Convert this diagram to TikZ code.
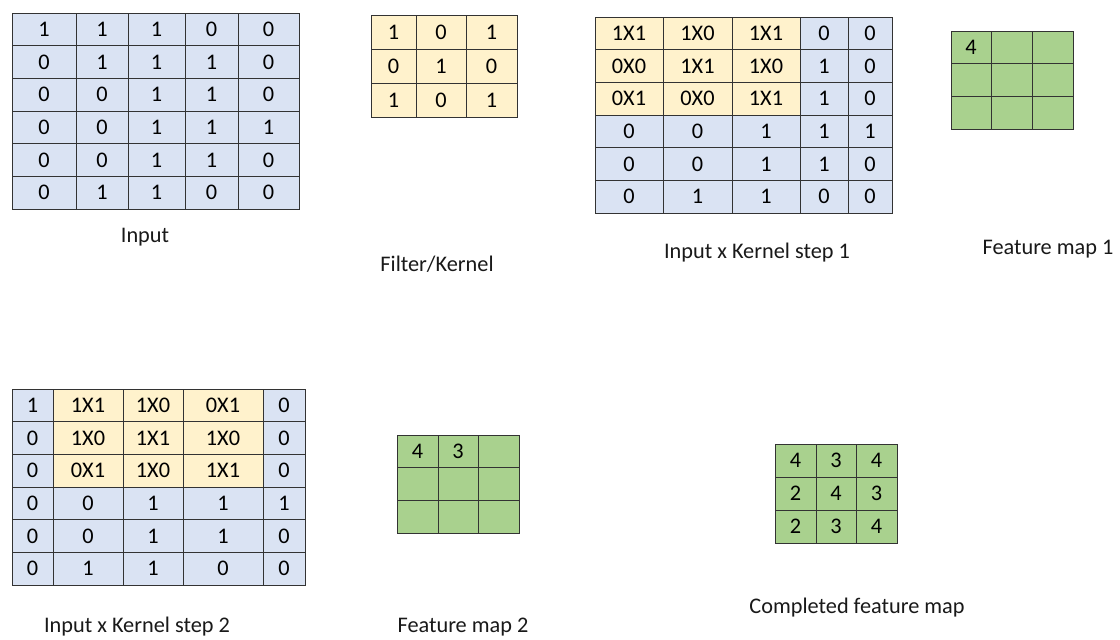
\documentclass[tikz,border=0pt]{standalone}
\usepackage{fontspec}
\setmainfont{Carlito}
\usepackage{tikz}
\usetikzlibrary{positioning}

\definecolor{inblue}{HTML}{DAE3F3}
\definecolor{kyellow}{HTML}{FFF2CC}
\definecolor{fmgreen}{HTML}{A9D18E}

\tikzset{
  cell/.style={draw=black!80, line width=1pt, inner sep=0pt, outer sep=0pt,
    anchor=north west, font=\fontsize{22.3}{26}\selectfont},
  blu/.style={fill=inblue},
  yel/.style={fill=kyellow},
  grn/.style={fill=fmgreen},
  caption/.style={font=\fontsize{22.3}{26}\selectfont, text=black!90}
}

% grid of cells: name, column edges, top, row height, rows of value/fill
\newcommand{\cellgrid}[5]{%
  \foreach \row [count=\ri] in {#5} {
    \foreach \v/\f [count=\ci] in \row {
      \pgfmathsetmacro\xa{{#2}[\ci-1]}
      \pgfmathsetmacro\xb{{#2}[\ci]}
      \pgfmathsetmacro\cellw{\xb-\xa}
      \pgfmathsetmacro\yt{#3+(\ri-1)*#4}
      \node[cell, \f, minimum width=\cellw pt, minimum height=#4 pt]
        (#1-\ri-\ci) at (\xa,\yt) {\v};
    }
  }
}

\begin{document}
\begin{tikzpicture}[x=1pt, y=-1pt]
  \useasboundingbox[fill=white] (0,0) rectangle (1120,640);

  % input
  \cellgrid{in}{12,76,128,185,238,299}{13}{32.67}{
    {1/blu,1/blu,1/blu,0/blu,0/blu},
    {0/blu,1/blu,1/blu,1/blu,0/blu},
    {0/blu,0/blu,1/blu,1/blu,0/blu},
    {0/blu,0/blu,1/blu,1/blu,1/blu},
    {0/blu,0/blu,1/blu,1/blu,0/blu},
    {0/blu,1/blu,1/blu,0/blu,0/blu}}
  \node[caption] (inlabel) at (145,237) {Input};

  % kernel
  \cellgrid{k}{371,416,466,517}{15}{34}{
    {1/yel,0/yel,1/yel},
    {0/yel,1/yel,0/yel},
    {1/yel,0/yel,1/yel}}
  \node[caption] (klabel) at (437,264) {Filter/Kernel};

  % step 1
  \cellgrid{sa}{595,663,732,800,848,892}{17}{32.67}{
    {1X1/yel,1X0/yel,1X1/yel,0/blu,0/blu},
    {0X0/yel,1X1/yel,1X0/yel,1/blu,0/blu},
    {0X1/yel,0X0/yel,1X1/yel,1/blu,0/blu},
    {0/blu,0/blu,1/blu,1/blu,1/blu},
    {0/blu,0/blu,1/blu,1/blu,0/blu},
    {0/blu,1/blu,1/blu,0/blu,0/blu}}
  \node[caption] (salabel) at (757,253) {Input x Kernel step 1};

  % feature map 1
  \cellgrid{fa}{951,991,1032,1073}{31}{32.67}{
    {4/grn,/grn,/grn},
    {/grn,/grn,/grn},
    {/grn,/grn,/grn}}
  \node[caption] (falabel) at (1048,249) {Feature map 1};

  % step 2
  \cellgrid{sb}{12,53,123,183,263,305}{389}{32.67}{
    {1/blu,1X1/yel,1X0/yel,0X1/yel,0/blu},
    {0/blu,1X0/yel,1X1/yel,1X0/yel,0/blu},
    {0/blu,0X1/yel,1X0/yel,1X1/yel,0/blu},
    {0/blu,0/blu,1/blu,1/blu,1/blu},
    {0/blu,0/blu,1/blu,1/blu,0/blu},
    {0/blu,1/blu,1/blu,0/blu,0/blu}}
  \node[caption] (sblabel) at (137,627) {Input x Kernel step 2};

  % feature map 2
  \cellgrid{fb}{397,438,478,519}{435}{32.67}{
    {4/grn,3/grn,/grn},
    {/grn,/grn,/grn},
    {/grn,/grn,/grn}}
  \node[caption] (fblabel) at (463,627) {Feature map 2};

  % completed map
  \cellgrid{fm}{775,816,856,897}{444}{33}{
    {4/grn,3/grn,4/grn},
    {2/grn,4/grn,3/grn},
    {2/grn,3/grn,4/grn}}
  \node[caption] (fmlabel) at (857,608) {Completed feature map};
\end{tikzpicture}
\end{document}
